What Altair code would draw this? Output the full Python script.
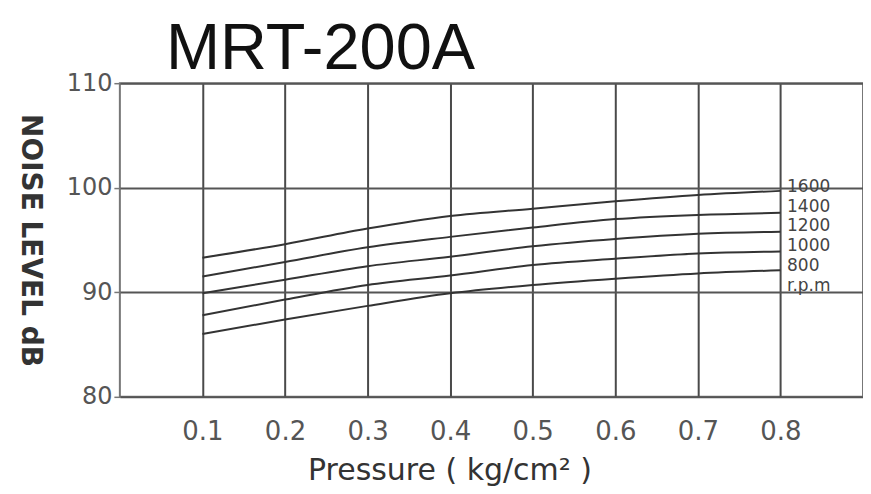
import altair as alt
import pandas as pd

pressure = [0.1, 0.2, 0.3, 0.4, 0.5, 0.6, 0.7, 0.8]
rpm_1600 = [93.3, 94.6, 96.1, 97.3, 98.0, 98.7, 99.3, 99.7]
rpm_1400 = [91.5, 92.9, 94.3, 95.3, 96.2, 97.0, 97.4, 97.6]
rpm_1200 = [89.9, 91.2, 92.5, 93.4, 94.4, 95.1, 95.6, 95.8]
rpm_1000 = [87.8, 89.3, 90.7, 91.6, 92.6, 93.2, 93.7, 93.9]
rpm_800 = [86.0, 87.4, 88.7, 89.9, 90.7, 91.3, 91.8, 92.1]

series = {"1600": rpm_1600, "1400": rpm_1400, "1200": rpm_1200,
          "1000": rpm_1000, "800": rpm_800}

label_texts = ["1600", "1400", "1200", "1000", "800", "r.p.m"]
label_y = [100.1, 98.2, 96.3, 94.4, 92.5, 90.6]
label_x = [0.808] * 6

x_ticks = [0.1, 0.2, 0.3, 0.4, 0.5, 0.6, 0.7, 0.8]
y_ticks = [80, 90, 100, 110]

rows = []
for name, vals in series.items():
    for p, v in zip(pressure, vals):
        rows.append({"rpm": name, "pressure": p, "db": v})
df = pd.DataFrame(rows)
lab = pd.DataFrame({"text": label_texts, "x": label_x, "y": label_y})

xs = alt.Scale(domain=[0, 0.9], nice=False, zero=False)
ys = alt.Scale(domain=[80, 110], nice=False, zero=False)

x_axis = alt.Axis(values=x_ticks, format=".1f", title="Pressure ( kg/cm² )",
                  grid=True, gridColor="#4a4a4a", gridWidth=2, gridOpacity=1,
                  domain=False, ticks=False,
                  labelFont="DejaVu Sans", labelFontSize=26, labelColor="#555555",
                  labelPadding=22,
                  titleFont="DejaVu Sans", titleFontSize=30, titleFontWeight="normal",
                  titleColor="#333333", titlePadding=11, titleX=330, titleAlign="center")
y_axis = alt.Axis(values=y_ticks, title="NOISE LEVEL dB",
                  grid=True, gridColor="#555555", gridWidth=2, gridOpacity=1,
                  domain=False, ticks=True, tickSize=6, tickColor="#777777", tickWidth=1.5,
                  labelFont="DejaVu Sans", labelFontSize=24, labelColor="#555555",
                  labelPadding=2,
                  titleFont="DejaVu Sans", titleFontSize=28, titleFontWeight="bold",
                  titleColor="#333333", titleAngle=90, titlePadding=51)

lines = alt.Chart(df).mark_line(color="#333333", strokeWidth=2, interpolate="monotone").encode(
    x=alt.X("pressure:Q", scale=xs, axis=x_axis),
    y=alt.Y("db:Q", scale=ys, axis=y_axis),
    detail="rpm:N",
)

labels = alt.Chart(lab).mark_text(align="left", baseline="middle", font="DejaVu Sans",
                                  fontSize=17, color="#444444").encode(
    x=alt.X("x:Q", scale=xs),
    y=alt.Y("y:Q", scale=ys),
    text="text:N",
)

chart = alt.layer(lines, labels).properties(
    width=744, height=314,
    padding={"left": 7, "top": 9, "right": 0, "bottom": 0},
    title=alt.TitleParams("MRT-200A", font="Liberation Sans", fontSize=65,
                          fontWeight="normal", color="#111111", anchor="start",
                          dx=151, offset=-12),
).configure_view(stroke="#777777", strokeWidth=2)

chart.save("out.html", embed_options={"renderer": "svg", "actions": False})
